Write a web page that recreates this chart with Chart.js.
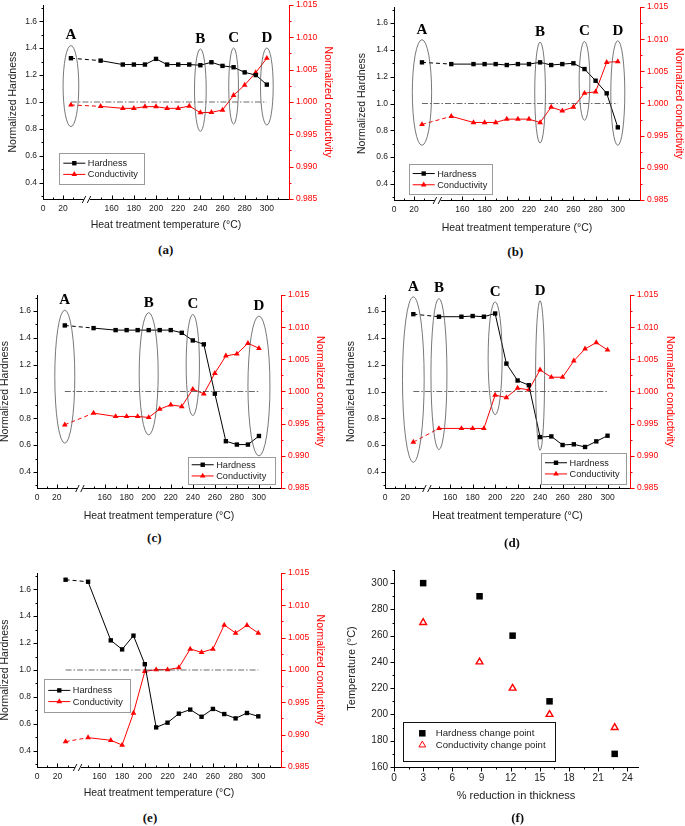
<!DOCTYPE html>
<html><head><meta charset="utf-8">
<script src="https://cdn.jsdelivr.net/npm/chart.js@4"></script>
<style>
html,body{margin:0;padding:0;background:#fff}
body{width:685px;height:826px;position:relative;overflow:hidden;font-family:"Liberation Sans",Arial,sans-serif}
canvas{position:absolute}
.lab{position:absolute;font:bold 13px "Liberation Serif","Times New Roman",serif;transform:translate(-50%,-50%);color:#111;white-space:nowrap}
</style></head><body>
<script>
// ---------------- DATA ----------------
const RT = 28; // room temperature point
const temps = [RT,150,170,180,190,200,210,220,230,240,250,260,270,280,290,300];
const xTickTemps = [0,20,160,180,200,220,240,260,280,300];
const xMinorTemps = [10,30,150,170,190,210,230,250,270,290,310];
const hardTicks = [0.4,0.6,0.8,1.0,1.2,1.4,1.6];
const hardMinor = [0.3,0.5,0.7,0.9,1.1,1.3,1.5,1.7];
const condTicks = [0.985,0.990,0.995,1.000,1.005,1.010,1.015];
const condMinor = [0.9875,0.9925,0.9975,1.0025,1.0075,1.0125];

const hardA = [1.325,1.307,1.278,1.278,1.278,1.320,1.278,1.278,1.278,1.273,1.295,1.268,1.258,1.220,1.200,1.129];
const condA = [0.99954,0.99933,0.99902,0.99902,0.99928,0.99928,0.99902,0.99902,0.99938,0.99835,0.99840,0.99876,1.00103,1.00263,1.00455,1.00677];
const hardB = [1.307,1.294,1.294,1.294,1.294,1.287,1.294,1.294,1.307,1.287,1.294,1.300,1.257,1.170,1.076,0.822];
const condB = [0.99674,0.99801,0.99705,0.99705,0.99705,0.99757,0.99757,0.99757,0.99705,0.99943,0.99886,0.99943,1.00160,1.00181,1.00641,1.00651];
const hardC = [1.493,1.473,1.458,1.458,1.458,1.458,1.458,1.458,1.438,1.381,1.352,0.984,0.629,0.604,0.604,0.668];
const condC = [0.99483,0.99664,0.99612,0.99612,0.99612,0.99597,0.99726,0.99793,0.99767,1.00036,0.99964,1.00284,1.00553,1.00584,1.00750,1.00672];
const hardD = [1.577,1.558,1.558,1.563,1.558,1.582,1.208,1.082,1.047,0.660,0.665,0.601,0.606,0.586,0.628,0.670];
const condD = [0.99214,0.99426,0.99426,0.99426,0.99426,0.99943,0.99907,1.00052,1.00026,1.00336,1.00222,1.00222,1.00476,1.00662,1.00760,1.00646];
const hardE = [1.670,1.655,1.220,1.153,1.255,1.043,0.574,0.609,0.676,0.706,0.653,0.711,0.673,0.641,0.681,0.656];
const condE = [0.98892,0.98954,0.98913,0.98840,0.99335,0.99979,1.00005,1.00005,1.00036,1.00325,1.00273,1.00325,1.00696,1.00572,1.00691,1.00572];

// ellipse annotations (temperature, top / bottom in normalized hardness)
const ellLabels = ['A','B','C','D'];
const ellA = {t:[RT,240,270,300], top:[1.419,1.394,1.401,1.401], bot:[0.817,0.782,0.836,0.829]};
const ellB = {t:[RT,230,270,300], top:[1.476,1.458,1.463,1.468], bot:[0.688,0.705,0.875,0.688]};
const ellC = {t:[RT,200,240,300], top:[1.607,1.588,1.575,1.563], bot:[0.614,0.676,0.820,0.519]};
const ellD = {t:[RT,150,200,240], top:[1.706,1.694,1.669,1.677], bot:[0.472,0.566,0.827,0.561]};

// panel (f)
const reduction = [3.0,8.8,12.2,16.0,22.7];
const hardChange = [300,290,260,210,170];
const condChange = [270,240,220,200,190];
const fXTicks = [0,3,6,9,12,15,18,21,24];
const fXMinor = [1.5,4.5,7.5,10.5,13.5,16.5,19.5,22.5];
const fYTicks = [160,180,200,220,240,260,280,300];
const fYMinor = [170,190,210,230,250,270,290,310];

// ---------------- LAYOUT / STYLE ----------------
const LOW = 0.9;
const LW = 55, RW = 50, TP = 15, BH = 40;
const RED = '#ff0000';
const TXT = '#222';

function mkCanvas(area){
  const c = document.createElement('canvas');
  const L = area.l - LW, T = area.t - TP;
  const W = area.r - area.l + LW + RW, H = area.b - area.t + TP + BH;
  c.width = W; c.height = H;
  c.style.left = L + 'px'; c.style.top = T + 'px';
  c.style.width = W + 'px'; c.style.height = H + 'px';
  document.body.appendChild(c);
  return {c, L, T};
}
function addLabel(text, x, y){
  const d = document.createElement('div');
  d.className = 'lab'; d.textContent = text;
  d.style.left = x + 'px'; d.style.top = y + 'px';
  document.body.appendChild(d);
}
function drawTicksY(ctx, scale, vals, x, dir, len, color){
  ctx.strokeStyle = color; ctx.lineWidth = 1;
  vals.forEach(v => {
    const y = Math.round(scale.getPixelForValue(v)) + 0.5;
    ctx.beginPath(); ctx.moveTo(x, y); ctx.lineTo(x + dir*len, y); ctx.stroke();
  });
}
function drawTicksX(ctx, scale, vals, y, dir, len, color){
  ctx.strokeStyle = color; ctx.lineWidth = 1;
  vals.forEach(v => {
    const x = Math.round(scale.getPixelForValue(v)) + 0.5;
    if (x < scale.left - 1 || x > scale.right + 1) return;
    ctx.beginPath(); ctx.moveTo(x, y); ctx.lineTo(x, y + dir*len); ctx.stroke();
  });
}
function drawLegend(ctx, box, items, o){
  const [bx, by, bw, bh] = box;
  ctx.save();
  ctx.fillStyle = '#fff'; ctx.fillRect(bx, by, bw, bh);
  ctx.strokeStyle = o.border; ctx.lineWidth = 1;
  ctx.strokeRect(Math.round(bx)+0.5, Math.round(by)+0.5, Math.round(bw), Math.round(bh));
  ctx.font = o.font; ctx.textBaseline = 'middle'; ctx.textAlign = 'left';
  items.forEach((it, i) => {
    const y = by + o.rows[i];
    if (o.line) {
      ctx.strokeStyle = it.color; ctx.lineWidth = 1;
      ctx.beginPath(); ctx.moveTo(bx + o.lx0, y); ctx.lineTo(bx + o.lx1, y); ctx.stroke();
    }
    ctx.fillStyle = it.fill; ctx.strokeStyle = it.color; 
    Chart.helpers.drawPoint(ctx, {pointStyle: it.style, radius: it.r, rotation: 0, borderWidth: it.bw}, bx + o.mx, y);
    ctx.fillStyle = TXT;
    ctx.fillText(it.label, bx + o.tx, y + 0.5);
  });
  ctx.restore();
}

const PANELS = [
  {name:'(a)', area:{l:43,t:5,r:289,b:199}, off:98, hard:hardA, cond:condA, ell:ellA, ellW:[15.7,11.7,9.7,12.7],
   legend:[59.3,153.3,85,31], pad:{l:18.7,r:4.4,b:7.4}, labPos:[165.7,250]},
  {name:'(b)', area:{l:394,t:7,r:640,b:200}, off:98.4, hard:hardB, cond:condB, ell:ellB, ellW:[19.3,10.7,10.7,14],
   legend:[408.7,164,83.3,30.3], pad:{l:16.4,r:4.7,b:6}, labPos:[515.3,252.3]},
  {name:'(c)', area:{l:37,t:295,r:281,b:488}, off:98.7, hard:hardC, cond:condC, ell:ellC, ellW:[20,19,13.3,22],
   legend:[187.7,456.7,86.6,27.3], pad:{l:16.4,r:4.7,b:5.3}, labPos:[154.3,537.7]},
  {name:'(d)', area:{l:385,t:295,r:630,b:488}, off:102, hard:hardD, cond:condD, ell:ellD, ellW:[21.7,16,14,9],
   legend:[541,452.7,85,31.3], pad:{l:14.7,r:4,b:5.3}, labPos:[512,543.3]},
  {name:'(e)', area:{l:37,t:573,r:281,b:767}, off:105, hard:hardE, cond:condE, ell:null, ellW:null,
   legend:[44.3,679.3,85.7,33.4], pad:{l:16.4,r:4.7,b:8}, labPos:[150,817.7]}
];

function heatPanel(p){
  const {c, L, T} = mkCanvas(p.area);
  const xm = t => (t < 100 ? t*LOW : t - p.off);
  const decor = {
    id: 'decor',
    afterDatasetsDraw(chart){
      const ctx = chart.ctx, xs = chart.scales.x, ys = chart.scales.y;
      if (!p.ell) return;
      ctx.save();
      p.ell.t.forEach((t, i) => {
        const cx = xs.getPixelForValue(xm(t));
        const yt = ys.getPixelForValue(p.ell.top[i]), yb = ys.getPixelForValue(p.ell.bot[i]);
        ctx.strokeStyle = '#555'; ctx.lineWidth = 0.8;
        ctx.beginPath(); ctx.ellipse(cx, (yt+yb)/2, p.ellW[i]/2, (yb-yt)/2, 0, 0, Math.PI*2); ctx.stroke();
        ctx.fillStyle = '#000'; ctx.font = 'bold 15px "Liberation Serif", "Times New Roman", serif';
        ctx.textAlign = 'center'; ctx.textBaseline = 'middle';
        ctx.fillText(ellLabels[i], cx, yt - 10);
      });
      ctx.restore();
    },
    afterDraw(chart){
      const ctx = chart.ctx, a = chart.chartArea, xs = chart.scales.x, ys = chart.scales.y, y2 = chart.scales.y2;
      ctx.save();
      const lx = Math.round(a.left) + 0.5, rx = Math.round(a.right) + 0.5, by = Math.round(a.bottom) + 0.5;
      drawTicksY(ctx, ys, hardTicks, lx, -1, 4, '#000');
      drawTicksY(ctx, ys, hardMinor, lx, -1, 2, '#000');
      drawTicksY(ctx, y2, condTicks, rx, 1, 4, RED);
      drawTicksY(ctx, y2, condMinor, rx, 1, 2, RED);
      drawTicksX(ctx, xs, xTickTemps.map(xm), by, -1, 4, '#000');
      drawTicksX(ctx, xs, xMinorTemps.map(xm), by, -1, 2, '#000');
      // axis break
      const bx = xs.getPixelForValue((xm(30) + xm(150)) / 2);
      ctx.fillStyle = '#fff'; ctx.fillRect(bx - 3, by - 2, 6, 4);
      ctx.strokeStyle = '#000'; ctx.lineWidth = 0.9;
      ctx.beginPath(); ctx.moveTo(bx - 4.5, by + 3.5); ctx.lineTo(bx - 1, by - 3.5);
      ctx.moveTo(bx + 0.5, by + 3.5); ctx.lineTo(bx + 4, by - 3.5); ctx.stroke();
      // legend
      const box = [p.legend[0] - L, p.legend[1] - T, p.legend[2], p.legend[3]];
      const cy = p.legend[3] / 2;
      drawLegend(ctx, box, [
        {label:'Hardness', color:'#000', fill:'#000', style:'rect', r:3.1, bw:0},
        {label:'Conductivity', color:RED, fill:RED, style:'triangle', r:3.3, bw:0}
      ], {border:'#9a9a9a', font:'9.2px "Liberation Sans", Arial, sans-serif', rows:[cy-5.6, cy+5.6],
          line:true, lx0:4, lx1:26, mx:15, tx:28.5});
      ctx.restore();
    }
  };
  const tickFont = {family:'"Liberation Sans", Arial, sans-serif', size:8.5};
  const titleFont = {family:'"Liberation Sans", Arial, sans-serif', size:10.5};
  new Chart(c, {
    type: 'line',
    data: {datasets: [
      {label:'ref', data:[{x:xm(RT), y:1}, {x:xm(300), y:1}], yAxisID:'y', borderColor:'#444', borderWidth:0.8,
       borderDash:[6,2,1.5,2], pointRadius:0, fill:false},
      {label:'Hardness', data: temps.map((t,i) => ({x:xm(t), y:p.hard[i]})), yAxisID:'y',
       borderColor:'#000', backgroundColor:'#000', borderWidth:1, pointStyle:'rect', pointRadius:3.1, pointBorderWidth:0,
       segment:{borderDash: ctx => ctx.p0DataIndex === 0 ? [4,3] : undefined}},
      {label:'Conductivity', data: temps.map((t,i) => ({x:xm(t), y:p.cond[i]})), yAxisID:'y2',
       borderColor:RED, backgroundColor:RED, borderWidth:1, pointStyle:'triangle', pointRadius:3.3, pointBorderWidth:0,
       segment:{borderDash: ctx => ctx.p0DataIndex === 0 ? [4,3] : undefined}}
    ]},
    options: {
      responsive:false, animation:false, devicePixelRatio:1,
      layout:{padding:{top:TP, left:0, right:0, bottom:0}},
      plugins:{legend:{display:false}, tooltip:{enabled:false}},
      elements:{line:{tension:0}},
      scales:{
        x:{type:'linear', position:'bottom', min:0, max:xm(320),
           afterFit: s => { s.height = BH; },
           afterBuildTicks: s => { s.ticks = xTickTemps.map(t => ({value: xm(t)})); },
           ticks:{callback:(v,i) => String(xTickTemps[i]), autoSkip:false, maxRotation:0, padding:5, font:tickFont, color:TXT},
           grid:{display:false, drawTicks:false}, border:{display:true, color:'#000', width:1},
           title:{display:true, text:'Heat treatment temperature (°C)', font:titleFont, color:TXT, padding:p.pad.b}},
        y:{type:'linear', position:'left', min:0.28, max:1.72,
           afterFit: s => { s.width = LW; },
           afterBuildTicks: s => { s.ticks = hardTicks.map(v => ({value:v})); },
           ticks:{callback: v => v.toFixed(1), autoSkip:false, padding:6, font:tickFont, color:TXT},
           grid:{display:false, drawTicks:false}, border:{display:true, color:'#000', width:1},
           title:{display:true, text:'Normalized Hardness', font:titleFont, color:TXT, padding:p.pad.l}},
        y2:{type:'linear', position:'right', min:0.985, max:1.015,
           afterFit: s => { s.width = RW; },
           afterBuildTicks: s => { s.ticks = condTicks.map(v => ({value:v})); },
           ticks:{callback: v => v.toFixed(3), autoSkip:false, padding:7, font:tickFont, color:RED},
           grid:{display:false, drawTicks:false}, border:{display:true, color:RED, width:1},
           title:{display:true, text:'Normalized conductivity', font:titleFont, color:RED, padding:p.pad.r}}
      }
    },
    plugins:[decor]
  });
  addLabel(p.name, p.labPos[0], p.labPos[1]);
}
PANELS.forEach(heatPanel);

// ---------------- panel (f) ----------------
(function(){
  const area = {l:394, t:570, r:638, b:767};
  const {c, L, T} = mkCanvas(area);
  const legendBox = [402.7, 721.7, 151.6, 39];
  const decor = {
    id:'decorF',
    afterDraw(chart){
      const ctx = chart.ctx, a = chart.chartArea, xs = chart.scales.x, ys = chart.scales.y;
      ctx.save();
      const lx = Math.round(a.left) + 0.5, by = Math.round(a.bottom) + 0.5;
      drawTicksY(ctx, ys, fYTicks, lx, -1, 4, '#000');
      drawTicksY(ctx, ys, fYMinor, lx, -1, 2, '#000');
      drawTicksX(ctx, xs, fXTicks, by, 1, 4, '#000');
      drawTicksX(ctx, xs, fXMinor, by, 1, 2, '#000');
      drawLegend(ctx, [legendBox[0]-L, legendBox[1]-T, legendBox[2], legendBox[3]], [
        {label:'Hardness change point', color:'#000', fill:'#000', style:'rect', r:4.6, bw:0},
        {label:'Conductivity change point', color:RED, fill:'#fff', style:'triangle', r:3.9, bw:1.4}
      ], {border:'#111', font:'9.6px "Liberation Sans", Arial, sans-serif', rows:[11.6, 23.3],
          line:false, mx:19.6, tx:33});
      ctx.restore();
    }
  };
  const tickFont = {family:'"Liberation Sans", Arial, sans-serif', size:10};
  const titleFont = {family:'"Liberation Sans", Arial, sans-serif', size:11};
  new Chart(c, {
    type:'scatter',
    data:{datasets:[
      {label:'Hardness change point', data: reduction.map((r,i) => ({x:r, y:hardChange[i]})),
       pointStyle:'rect', pointRadius:4.6, backgroundColor:'#000', borderColor:'#000', pointBorderWidth:0},
      {label:'Conductivity change point', data: reduction.map((r,i) => ({x:r, y:condChange[i]})),
       pointStyle:'triangle', pointRadius:3.9, backgroundColor:'#fff', borderColor:RED, pointBorderWidth:1.4}
    ]},
    options:{
      responsive:false, animation:false, devicePixelRatio:1,
      layout:{padding:{top:TP, left:0, right:RW, bottom:0}},
      plugins:{legend:{display:false}, tooltip:{enabled:false}},
      scales:{
        x:{type:'linear', min:0, max:25.1,
           afterFit: s => { s.height = BH; },
           afterBuildTicks: s => { s.ticks = fXTicks.map(v => ({value:v})); },
           ticks:{callback: v => String(v), autoSkip:false, maxRotation:0, padding:5, font:tickFont, color:TXT},
           grid:{display:false, drawTicks:false}, border:{display:true, color:'#000', width:1},
           title:{display:true, text:'% reduction in thickness', font:titleFont, color:TXT, padding:4.7}},
        y:{type:'linear', min:160, max:310,
           afterFit: s => { s.width = LW; },
           afterBuildTicks: s => { s.ticks = fYTicks.map(v => ({value:v})); },
           ticks:{callback: v => String(v), autoSkip:false, padding:6, font:tickFont, color:TXT},
           grid:{display:false, drawTicks:false}, border:{display:true, color:'#000', width:1},
           title:{display:true, text:'Temperature (°C)', font:titleFont, color:TXT, padding:6.7}}
      }
    },
    plugins:[decor]
  });
  addLabel('(f)', 517.7, 818.3);
})();
</script>
</body></html>
